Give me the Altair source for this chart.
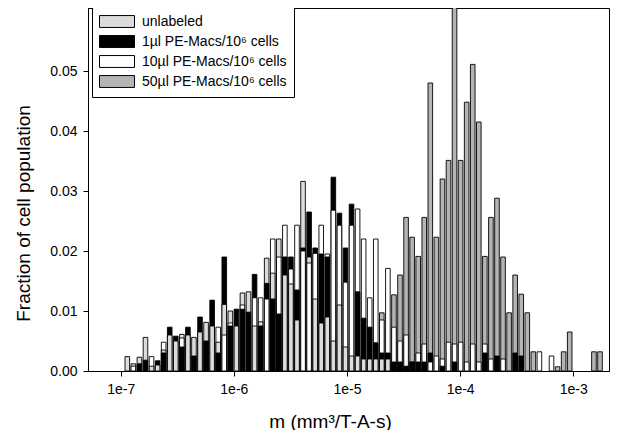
import altair as alt
import pandas as pd

series = ["unlabeled", "1µl PE-Macs/10⁶ cells", "10µl PE-Macs/10⁶ cells", "50µl PE-Macs/10⁶ cells"]
fills = ["#dcdcdc", "#000000", "#ffffff", "#b4b4b4"]

# histogram bins: regular in log10(m)
first_bin_log = -6.9417
bin_step_log = 0.05356

unlabeled = [0.0024,0.0012,0.0023,0.0056,0.0008,0.0010,0.0035,0.0060,0.0050,0.0061,
             0.0060,0.0056,0.0065,0.0081,0.0075,0.0048,0.0111,0.0100,0.0075,0.0130,
             0.0132,0.0075,0.0082,0.0188,0.0163,0.0220,0.0160,0.0145,0.0085,0.0316,
             0.0190,0.0120,0.0080,0.0090,0.0050,0.0110,0.0040,0.0025,0.0025,0.0020,
             0.0020,0.0020,0.0020,0.0020] + [0] * 35

pe1 = [0,0,0.0012,0.0018,0,0.0017,0.0030,0.0073,0.0058,0.0040,
       0.0073,0.0025,0.0090,0.0050,0.0118,0.0030,0.0190,0.0075,0.0103,0.0103,
       0.0098,0.0161,0.0075,0.0146,0.0120,0.0095,0.0190,0.0190,0.0135,0.0205,
       0.0265,0.0205,0.0195,0.0190,0.0323,0.0263,0.0205,0.0278,0.0132,0.0088,
       0.0073,0.0047,0.0030,0.0030,0.0015,0.0015,0.0008,0.0015,0.0015,0.0015,
       0.0030,0,0.0008,0,0.0015,0,0,0,0,0.0030,
       0,0.0025,0,0,0.0030,0.0025,0,0,0,0,
       0,0,0,0,0,0,0,0,0]

pe10 = [0,0.0008,0,0,0.0024,0,0.0048,0,0,0.0055,
        0,0,0,0,0,0.0073,0.0060,0.0080,0,0.0110,
        0,0.0122,0.0122,0.0120,0.0220,0.0190,0.0243,0.0170,0.0243,0.0200,
        0.0180,0.0196,0.0243,0.0195,0.0268,0.0243,0.0148,0.0243,0.0270,0.0220,
        0.0122,0.0220,0.0085,0.0171,0.0073,0.0050,0.0060,0.0015,0.0030,0.0045,
        0.0015,0.0025,0.0020,0.0048,0.0045,0.0048,0.0015,0.0045,0.0015,0.0045,
        0.0020,0,0.0020,0,0,0,0,0,0.0032,0,
        0.0025,0,0,0,0,0,0,0,0]

pe50 = [0] * 42 + [0.0097,0,0.0127,0.0160,0.0256,0.0223,0.0191,0.0256,
                   0.0480,0.0223,0.0320,0.0351,0.0750,0.0351,0.0448,0.0511,0.0415,0.0191,
                   0.0256,0.0288,0.0190,0.0097,0.0160,0.0128,0.0097,0.0032,0,0,
                   0,0.0007,0.0032,0.0065,0,0,0,0.0032,0.0032]

x_ticks = [1e-7, 1e-6, 1e-5, 1e-4, 1e-3]
y_ticks = [0.00, 0.01, 0.02, 0.03, 0.04, 0.05]

rows = []
for name, vals in zip(series, [unlabeled, pe1, pe10, pe50]):
    for k, v in enumerate(vals):
        if v > 0:
            c = first_bin_log + k * bin_step_log
            rows.append({"series": name, "frac": v,
                         "lo": 10 ** (c - 0.38 * bin_step_log),
                         "hi": 10 ** (c + 0.38 * bin_step_log)})
df = pd.DataFrame(rows).sort_values("frac", ascending=False).reset_index(drop=True)

FONT = "Liberation Sans"

chart = alt.Chart(df).mark_bar(stroke="black", strokeWidth=0.9, clip=True).encode(
    x=alt.X("lo:Q",
            scale=alt.Scale(type="log", domain=[10 ** -7.289, 10 ** -2.6845], nice=False),
            axis=alt.Axis(values=x_ticks, labelExpr="'1e' + round(log(datum.value)/LN10)",
                          title="m (mm³/T-A-s)", titleX=242, titlePadding=16,
                          grid=False)),
    x2="hi:Q",
    y=alt.Y("frac:Q", stack=None,
            scale=alt.Scale(domain=[0, 0.0605], nice=False),
            axis=alt.Axis(values=y_ticks, format=".2f", title="Fraction of cell population",
                          titleX=-55, titleY=205, grid=False)),
    y2=alt.datum(0),
    color=alt.Color("series:N", sort=series,
                    scale=alt.Scale(domain=series, range=fills),
                    legend=alt.Legend(title=None, orient="none", legendX=4, legendY=-1,
                                      symbolType="M-1,-0.85H4V0.85H-1Z", symbolSize=196,
                                      symbolStrokeColor="black", symbolStrokeWidth=1,
                                      symbolOpacity=1,
                                      labelFontSize=14, labelFont=FONT, labelColor="black",
                                      strokeColor="black", fillColor="white",
                                      padding=7, rowPadding=3, labelOffset=28)),
).properties(
    width=521, height=363,
    autosize=alt.AutoSizeParams(type="none"),
    padding={"left": 80, "top": 0, "right": 15, "bottom": 59},
).configure_view(stroke="black", strokeWidth=1).configure_axis(
    domainColor="black", tickColor="black", tickSize=5,
    labelFont=FONT, labelFontSize=14, labelColor="black", labelPadding=6,
    titleFont=FONT, titleFontSize=19, titleFontWeight="normal", titleColor="black",
)

chart.save("out.html", embed_options={"renderer": "svg", "actions": False})
